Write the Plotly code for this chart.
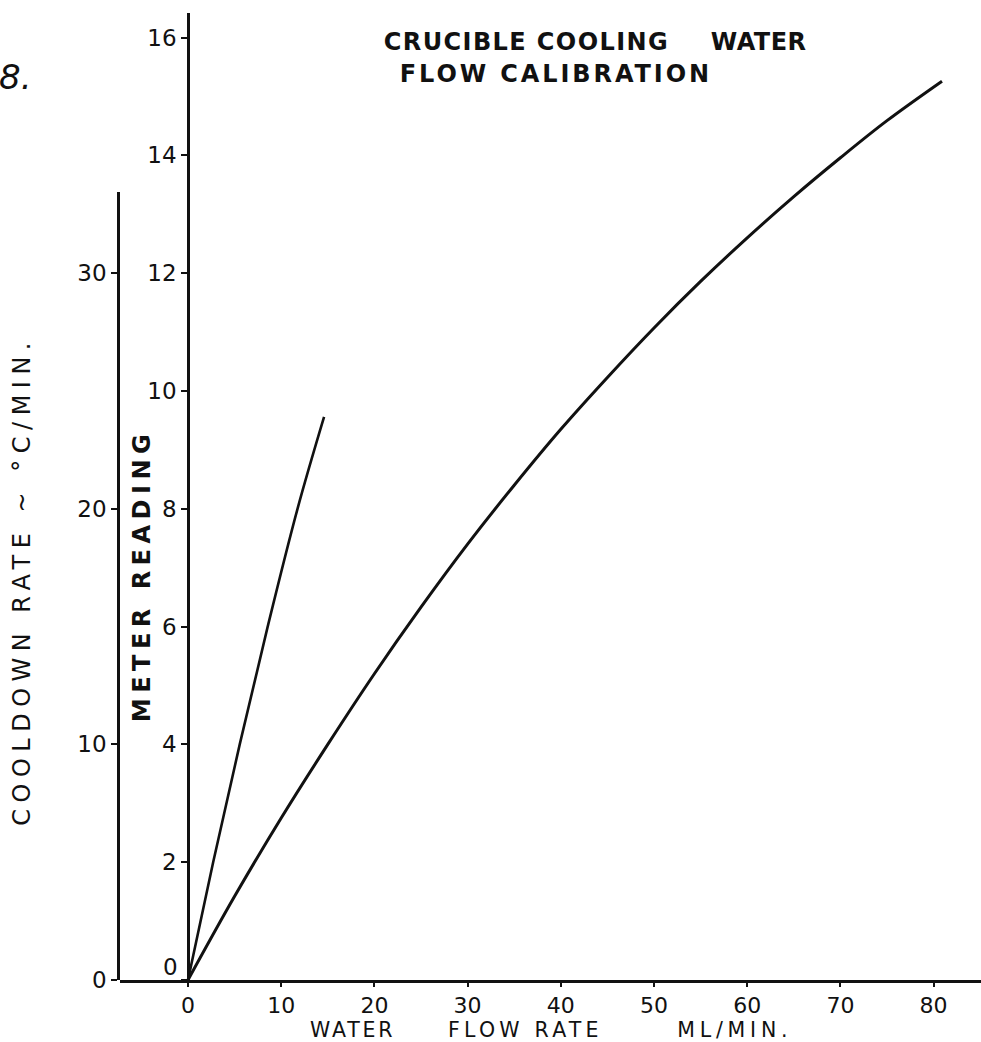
import json
import plotly.graph_objects as go

# ---------------- data ----------------
# Meter reading vs water flow rate (long curve)
flow_meter = [0, 5, 10, 15, 20, 25, 30, 35, 40, 45, 50, 55, 60, 65, 70, 75, 80.9]
meter_reading = [0, 1.42, 2.75, 4.0, 5.2, 6.33, 7.4, 8.4, 9.35, 10.23, 11.07,
                 11.86, 12.6, 13.3, 13.96, 14.59, 15.26]

# Cooldown rate vs water flow rate (steep line)
flow_cool = [0, 2.7, 5.55, 8.55, 11.75, 14.6]
cooldown_rate = [0, 5.0, 10.0, 15.0, 20.0, 23.9]

# tick values / labels
x_tickvals = [0, 10, 20, 30, 40, 50, 60, 70, 80]
x_ticktext = ["0", "10", "20", "30", "40", "50", "60", "70", "80"]
meter_tickvals = [0, 2, 4, 6, 8, 10, 12, 14, 16]
meter_ticktext = ["", "2", "4", "6", "8", "10", "12", "14", "16"]
meter_zero_label = "0"
cool_tickvals = [0, 10, 20, 30]
cool_ticktext = ["0", "10", "20", "30"]

title_1a = "CRUCIBLE COOLING"
title_1b = "WATER"
title_2 = "FLOW CALIBRATION"
xtitle_parts = ["WATER", "FLOW RATE", "ML/MIN."]
ytitle_meter = "METER READING"
ytitle_cool = "COOLDOWN RATE ~ °C/MIN."
fig_number = "8."

# ---------------- layout geometry ----------------
W, H = 981, 1042
L, R, T, B = 120, 0, 13, 62
PW, PH = W - L - R, H - T - B
X0PX = 188.0          # pixel of flow = 0
XPX_PER = 9.32        # px per ml/min
MPX_PER = 58.9        # px per meter unit
CPX_PER = MPX_PER / 2.5
COOL_TOP_PX = 192.0

x_range = [-(X0PX - L) / XPX_PER, (W - R - X0PX) / XPX_PER]
meter_range = [0, PH / MPX_PER]
cool_dom_top = (H - B - COOL_TOP_PX) / PH
cool_range = [0, (H - B - COOL_TOP_PX) / CPX_PER]


def px_x(px):
    return (px - L) / PW


def px_y(py):
    return (H - B - py) / PH


FONT = "DejaVu Sans"
black = "#111111"

fig = go.Figure()
fig.add_trace(go.Scatter(
    x=flow_meter, y=meter_reading, mode="lines",
    line=dict(color=black, width=3, shape="spline", smoothing=1.0),
    xaxis="x", yaxis="y", showlegend=False, hoverinfo="skip"))
fig.add_trace(go.Scatter(
    x=flow_cool, y=cooldown_rate, mode="lines",
    line=dict(color=black, width=2.6, shape="spline", smoothing=1.0),
    xaxis="x", yaxis="y2", showlegend=False, hoverinfo="skip"))

axis_common = dict(showgrid=False, zeroline=False, showline=True,
                   linecolor=black, linewidth=2.5, ticks="outside",
                   tickcolor=black, tickwidth=2, fixedrange=True)
yfont = dict(family=FONT, size=23, color=black)
xfont = dict(family=FONT, size=22, color=black)

fig.update_layout(
    width=W, height=H,
    margin=dict(l=L, r=R, t=T, b=B, pad=0),
    paper_bgcolor="white", plot_bgcolor="rgba(0,0,0,0)",
    showlegend=False,
    xaxis=dict(range=x_range, domain=[0, 1], anchor="y",
               tickmode="array", tickvals=x_tickvals, ticktext=x_ticktext,
               ticklen=4, tickfont=xfont, **axis_common),
    yaxis=dict(range=meter_range, domain=[0, 1], anchor="free",
               position=px_x(X0PX), side="left",
               tickmode="array", tickvals=meter_tickvals, ticktext=meter_ticktext,
               ticklen=6, tickfont=yfont, **axis_common),
    yaxis2=dict(range=cool_range, domain=[0, cool_dom_top], anchor="x",
                side="left",
                tickmode="array", tickvals=cool_tickvals, ticktext=cool_ticktext,
                ticklen=6, tickfont=yfont, **axis_common),
)

# annotations: (text, x_px, y_px, size, weight, angle, letter spacing px, style)
ann_specs = [
    (title_1a, 526.5, 42, 24, "bold", 0, 1.4, "normal"),
    (title_1b, 758, 42, 24, "bold", 0, 0.5, "normal"),
    (title_2, 556, 74, 24, "bold", 0, 2.9, "normal"),
    (xtitle_parts[0], 352, 1029.5, 20.5, "normal", 0, 2.8, "normal"),
    (xtitle_parts[1], 525, 1029.5, 20.5, "normal", 0, 4.2, "normal"),
    (xtitle_parts[2], 735, 1029.5, 20.5, "normal", 0, 4.8, "normal"),
    (ytitle_meter, 141, 575.5, 24, "bold", -90, 5.5, "normal"),
    (ytitle_cool, 22, 581, 24, "normal", -90, 6.5, "normal"),
    (fig_number, 15, 77, 34, "normal", 0, 0, "italic"),
]
annotations = []
spacings = []
for text, xp, yp, size, weight, angle, sp, style in ann_specs:
    annotations.append(dict(
        text=text, xref="paper", yref="paper", x=px_x(xp), y=px_y(yp),
        xanchor="center", yanchor="middle", showarrow=False, textangle=angle,
        font=dict(family=FONT, size=size, color=black, weight=weight, style=style)))
    spacings.append(sp)

# the meter "0" label sits slightly above the flow axis in the original
annotations.append(dict(
    text=meter_zero_label, xref="x", yref="y", x=0, y=0.22,
    xanchor="right", yanchor="middle", xshift=-8, showarrow=False,
    font=dict(family=FONT, size=23, color=black)))
spacings.append(0)

fig.update_layout(annotations=annotations)

post = (
    "document.documentElement.style.margin='0';"
    "document.body.style.margin='0';document.body.style.padding='0';"
    "document.body.style.overflow='hidden';"
    "var gd=document.getElementById('{plot_id}');"
    "var sp=" + json.dumps(spacings) + ";"
    "gd.querySelectorAll('g.annotation').forEach(function(g){"
    "var i=parseInt(g.getAttribute('data-index'));"
    "var t=g.querySelector('text');"
    "if(t && sp[i]){t.style.letterSpacing=sp[i]+'px';}"
    "});"
)

fig.write_html("out.html", config={"displayModeBar": False}, post_script=post)
